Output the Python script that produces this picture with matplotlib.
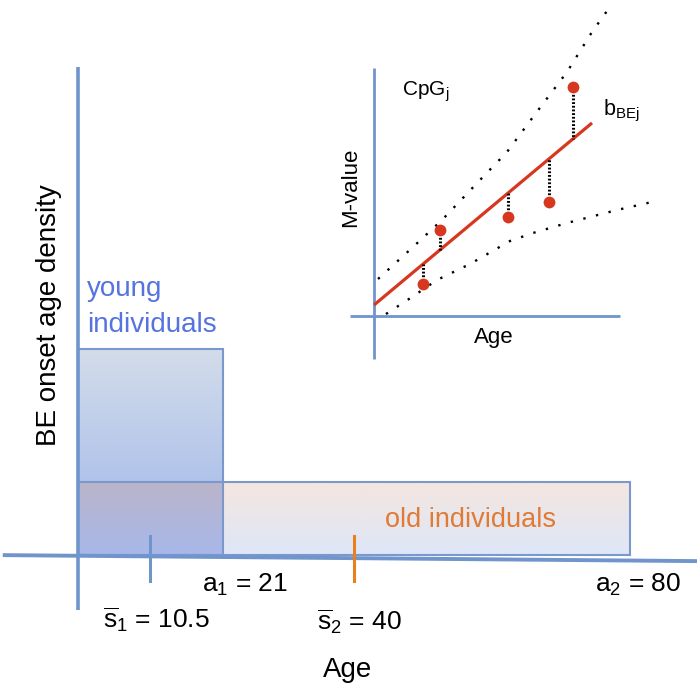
import numpy as np
import matplotlib
matplotlib.use("Agg")
import matplotlib.pyplot as plt

plt.rcParams["font.family"] = ["Liberation Sans", "DejaVu Sans"]
plt.rcParams["mathtext.fontset"] = "custom"
plt.rcParams["mathtext.rm"] = "Liberation Sans"
plt.rcParams["mathtext.it"] = "Liberation Sans:italic"

# main panel: onset age densities (age in years, heights as drawn)
young_ages = [0, 21]
old_ages = [0, 80]
young_height = 0.048
old_height = 0.017
mean_young = 10.5
mean_old = 40

# inset: M-value of one CpG against age (arbitrary units)
fit_ages = [0, 87.2]
fit_intercept = 4.4
fit_slope = 0.835
cpg_age = [19.6, 26.4, 53.6, 70.0, 79.6]
cpg_mvalue = [12.8, 34.4, 39.6, 45.6, 91.6]
upper_age = [1.6, 15.6, 27.2, 42.4, 53.2, 63.6, 77.2, 87.2, 95.2]
upper_mvalue = [14.8, 27.6, 38.4, 54.4, 65.6, 79.6, 97.6, 113.6, 124.8]
lower_age = [4.8, 15.2, 25.2, 38.4, 54.4, 63.6, 77.2, 97.2, 111.2]
lower_mvalue = [0.8, 7.6, 14.4, 20.8, 30.0, 33.2, 37.2, 42.4, 45.6]

AXIS = "#7094cc"
EDGE = "#7b98cc"
RED = "#d7371e"
ORANGE = "#e8801e"


def gradient(ax, x0, x1, y0, y1, top, bottom):
    t = np.linspace(0, 1, 64)[:, None, None]
    img = (1 - t) * np.array(top)[None, None, :] + t * np.array(bottom)[None, None, :]
    ax.imshow(img / 255.0, extent=(x0, x1, y0, y1), origin="upper",
              aspect="auto", zorder=1, interpolation="bilinear")


fig = plt.figure(figsize=(7.0, 6.91), dpi=100)
ax = fig.add_axes([0, 0, 1, 1])
ax.set_axis_off()

# boxes: old strip, young box above it, and the overlap
gradient(ax, young_ages[1], old_ages[1], 0, old_height, (244, 230, 224), (222, 230, 248))
gradient(ax, young_ages[0], young_ages[1], old_height, young_height, (211, 220, 234), (176, 195, 234))
gradient(ax, young_ages[0], young_ages[1], 0, old_height, (186, 180, 201), (168, 184, 234))
ax.add_patch(plt.Rectangle((old_ages[0], 0), old_ages[1] - old_ages[0], old_height,
                           fill=False, ec=EDGE, lw=1.5, zorder=2))
ax.add_patch(plt.Rectangle((young_ages[0], 0), young_ages[1] - young_ages[0], young_height,
                           fill=False, ec=EDGE, lw=1.5, zorder=2))

# axes
ax.plot([-10.9, 89.7], [0, -0.0014], color=AXIS, lw=2.8, solid_capstyle="butt", zorder=3)
ax.plot([0, 0], [-0.0128, 0.1139], color=AXIS, lw=2.6, solid_capstyle="butt", zorder=3)
ax.plot([mean_young, mean_young], [-0.0061, 0.0044], color=AXIS, lw=2.2, zorder=3)
ax.plot([mean_old, mean_old], [-0.0061, 0.0044], color=ORANGE, lw=2.2, zorder=3)

ax.set_xlim(-11.30, 90.14)
ax.set_ylim(-0.0317, 0.1295)

ax.text(1.3, 0.0604, "young", color="#5574e0", fontsize=20, va="baseline")
ax.text(1.3, 0.0520, "individuals", color="#5574e0", fontsize=20, va="baseline")
ax.text(44.5, 0.0065, "old individuals", color="#e07a34", fontsize=19.5, va="baseline")
ax.text(-4.2, 0.056, "BE onset age density", rotation=90, fontsize=20,
        ha="center", va="center")
ax.text(18.0, -0.0086, "a$_1$ = 21", fontsize=19, va="baseline")
ax.text(74.9, -0.0086, "a$_2$ = 80", fontsize=19, va="baseline")
ax.text(3.6, -0.0170, r"$\overline{\mathrm{s}}_1$ = 10.5", fontsize=19, va="baseline")
ax.text(34.6, -0.0175, r"$\overline{\mathrm{s}}_2$ = 40", fontsize=19, va="baseline")
ax.text(35.5, -0.0285, "Age", fontsize=20, va="baseline")

# inset regression panel
ins = fig.add_axes([340 / 700, (691 - 360) / 691, 360 / 700, 360 / 691])
ins.set_axis_off()
ins.patch.set_alpha(0)
ins.set_xlim(-13.6, 130.4)
ins.set_ylim(-17.6, 126.4)

ins.plot([0, 0], [-17.2, 99.2], color=AXIS, lw=2.0, solid_capstyle="butt")
ins.plot([-9.6, 98.4], [0, 0], color=AXIS, lw=2.0, solid_capstyle="butt")

dots = (0, (1, 4.5))
ins.plot(upper_age, upper_mvalue, color="black", lw=1.7, ls=dots)
ins.plot(lower_age, lower_mvalue, color="black", lw=1.7, ls=dots)

fit = [fit_intercept + fit_slope * a for a in fit_ages]
ins.plot(fit_ages, fit, color=RED, lw=2.3, solid_capstyle="butt")
fitted = [fit_intercept + fit_slope * a for a in cpg_age]
ins.vlines(cpg_age, cpg_mvalue, fitted, color="black", lw=2.2, linestyles=(0, (0.6, 0.6)))
ins.plot(cpg_age, cpg_mvalue, "o", color=RED, ms=8.5, mew=0)

ins.text(11.2, 88.0, "CpG$_\\mathrm{j}$", fontsize=15, va="baseline")
ins.text(91.6, 80.4, "b$_\\mathrm{BEj}$", fontsize=15.5, va="baseline")
ins.text(-9.2, 51.6, "M-value", rotation=90, fontsize=16, ha="center", va="center")
ins.text(48.0, -8.8, "Age", fontsize=16, ha="center", va="center")

fig.savefig("out.png", dpi=100)
